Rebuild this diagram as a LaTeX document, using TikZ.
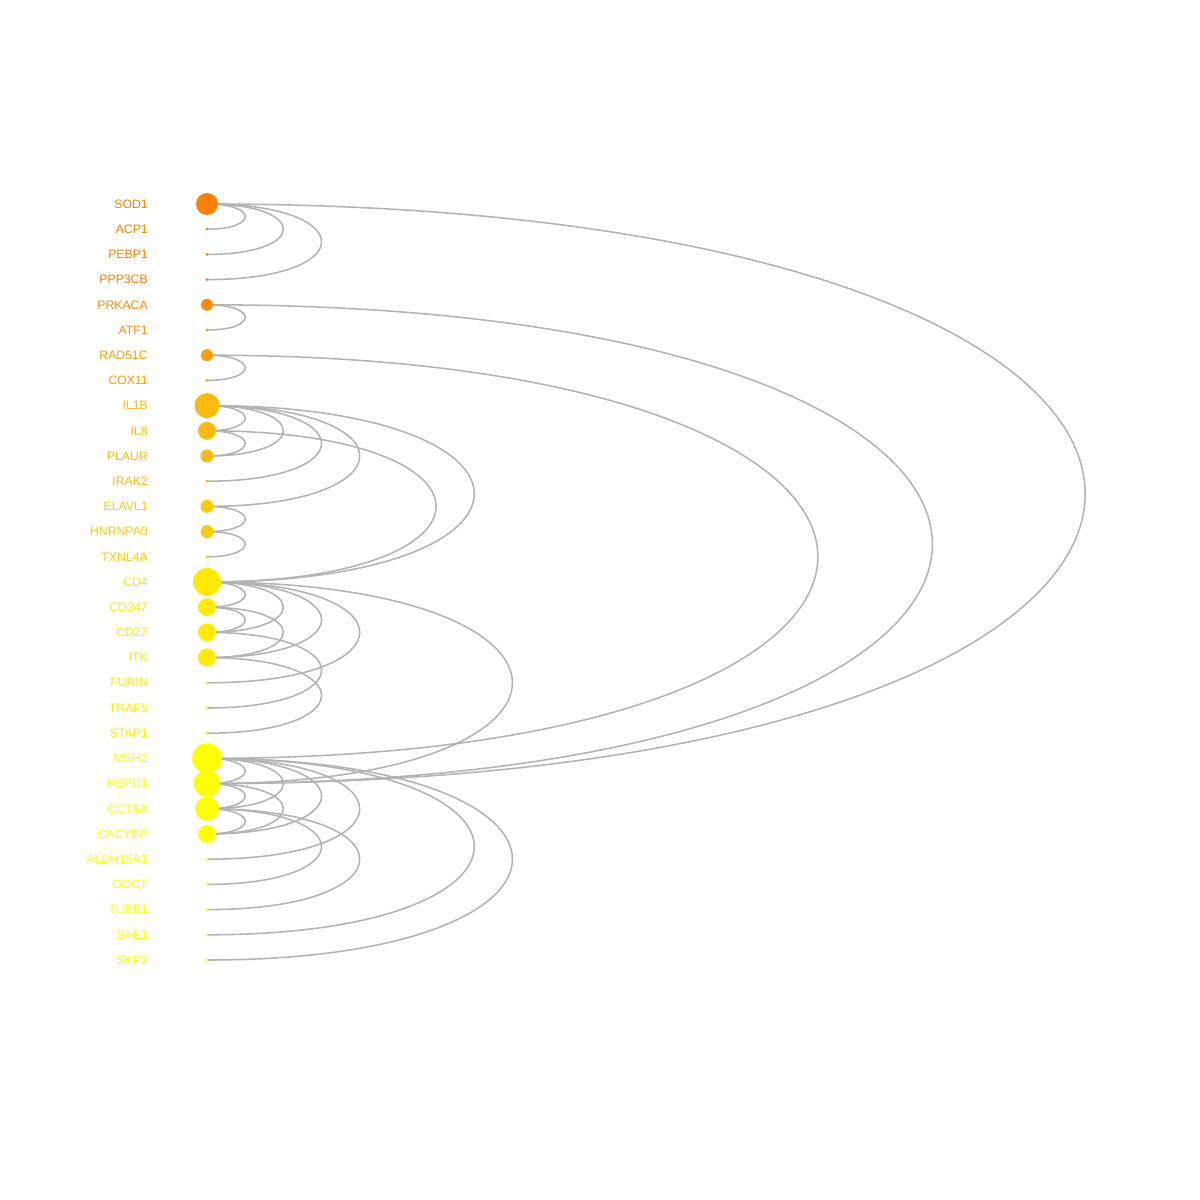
\documentclass[tikz,border=0pt]{standalone}
\usepackage{fontspec}
\setmainfont{Liberation Sans}
\usepackage{xcolor}
\usepackage{tikz}
\usetikzlibrary{backgrounds}

\definecolor{grpA}{HTML}{FF7F00}
\definecolor{grpB}{HTML}{FF8C05}
\definecolor{grpC}{HTML}{FFA000}
\definecolor{grpD}{HTML}{FFB90F}
\definecolor{grpE}{HTML}{FFCA00}
\definecolor{grpF}{HTML}{FFEA00}
\definecolor{grpG}{HTML}{FFFF00}
\definecolor{linkgray}{HTML}{B3B3B3}
\newcommand{\genefont}{\fontsize{8.7}{10}\selectfont}

\begin{document}
\begin{tikzpicture}[
  x=0.025cm, y=-0.025cm,
  dot/.style={circle, inner sep=0pt, draw=none, minimum size=#1*0.05cm},
  tag/.style={inner sep=0pt, anchor=east, font=\genefont},
  linkline/.style={draw=linkgray, line width=1.1pt},
  arcto/.style={out=0, in=0, looseness=5.18},
]
  \useasboundingbox (0,0) rectangle (1200,1200);

  % genes, top to bottom
  \foreach \g/\r/\c [count=\i from 0] in {
      SOD1/11/grpA, ACP1/1.5/grpA, PEBP1/1.5/grpA, PPP3CB/1.5/grpA,
      PRKACA/6/grpB, ATF1/1.5/grpB,
      RAD51C/6/grpC, COX11/1.5/grpC,
      IL1B/12.5/grpD, IL8/9/grpD, PLAUR/6.5/grpD, IRAK2/1.5/grpD,
      ELAVL1/6.5/grpE, HNRNPA0/6.5/grpE, TXNL4A/1.5/grpE,
      CD4/14/grpF, CD247/9/grpF, CD27/9/grpF, ITK/9/grpF,
      FURIN/1.5/grpF, TRAF5/1.5/grpF, STAP1/1.5/grpF,
      MSH2/15/grpG, HSPD1/13.5/grpG, CCT6A/12/grpG, CACYBP/9/grpG,
      ALDH18A1/1.5/grpG, GGCT/1.5/grpG, TUBB1/1.5/grpG, SAE1/1.5/grpG,
      SKP2/1.5/grpG} {
    \node[dot=\r, fill=\c] (\g) at (207, {204+25.2*\i}) {};
    \node[tag, text=\c] (t\g) at (148, {204+25.2*\i}) {\g};
  }

  % arcs behind the dots
  \begin{scope}[on background layer]
    \foreach \a/\b in {
        SOD1/ACP1, SOD1/PEBP1, SOD1/PPP3CB, SOD1/HSPD1,
        PRKACA/ATF1, PRKACA/HSPD1,
        RAD51C/COX11, RAD51C/MSH2,
        IL1B/IL8, IL1B/PLAUR, IL1B/IRAK2, IL1B/ELAVL1, IL1B/CD4,
        IL8/PLAUR, IL8/CD4,
        ELAVL1/HNRNPA0, HNRNPA0/TXNL4A,
        CD4/CD247, CD4/CD27, CD4/ITK, CD4/FURIN, CD4/HSPD1,
        CD247/CD27, CD247/ITK, CD27/TRAF5, ITK/STAP1,
        MSH2/HSPD1, MSH2/CCT6A, MSH2/CACYBP, MSH2/ALDH18A1,
        MSH2/SAE1, MSH2/SKP2,
        HSPD1/CCT6A, HSPD1/CACYBP,
        CCT6A/CACYBP, CCT6A/GGCT, CCT6A/TUBB1}
      \draw[linkline] (\a.center) to[arcto] (\b.center);
  \end{scope}
\end{tikzpicture}
\end{document}
